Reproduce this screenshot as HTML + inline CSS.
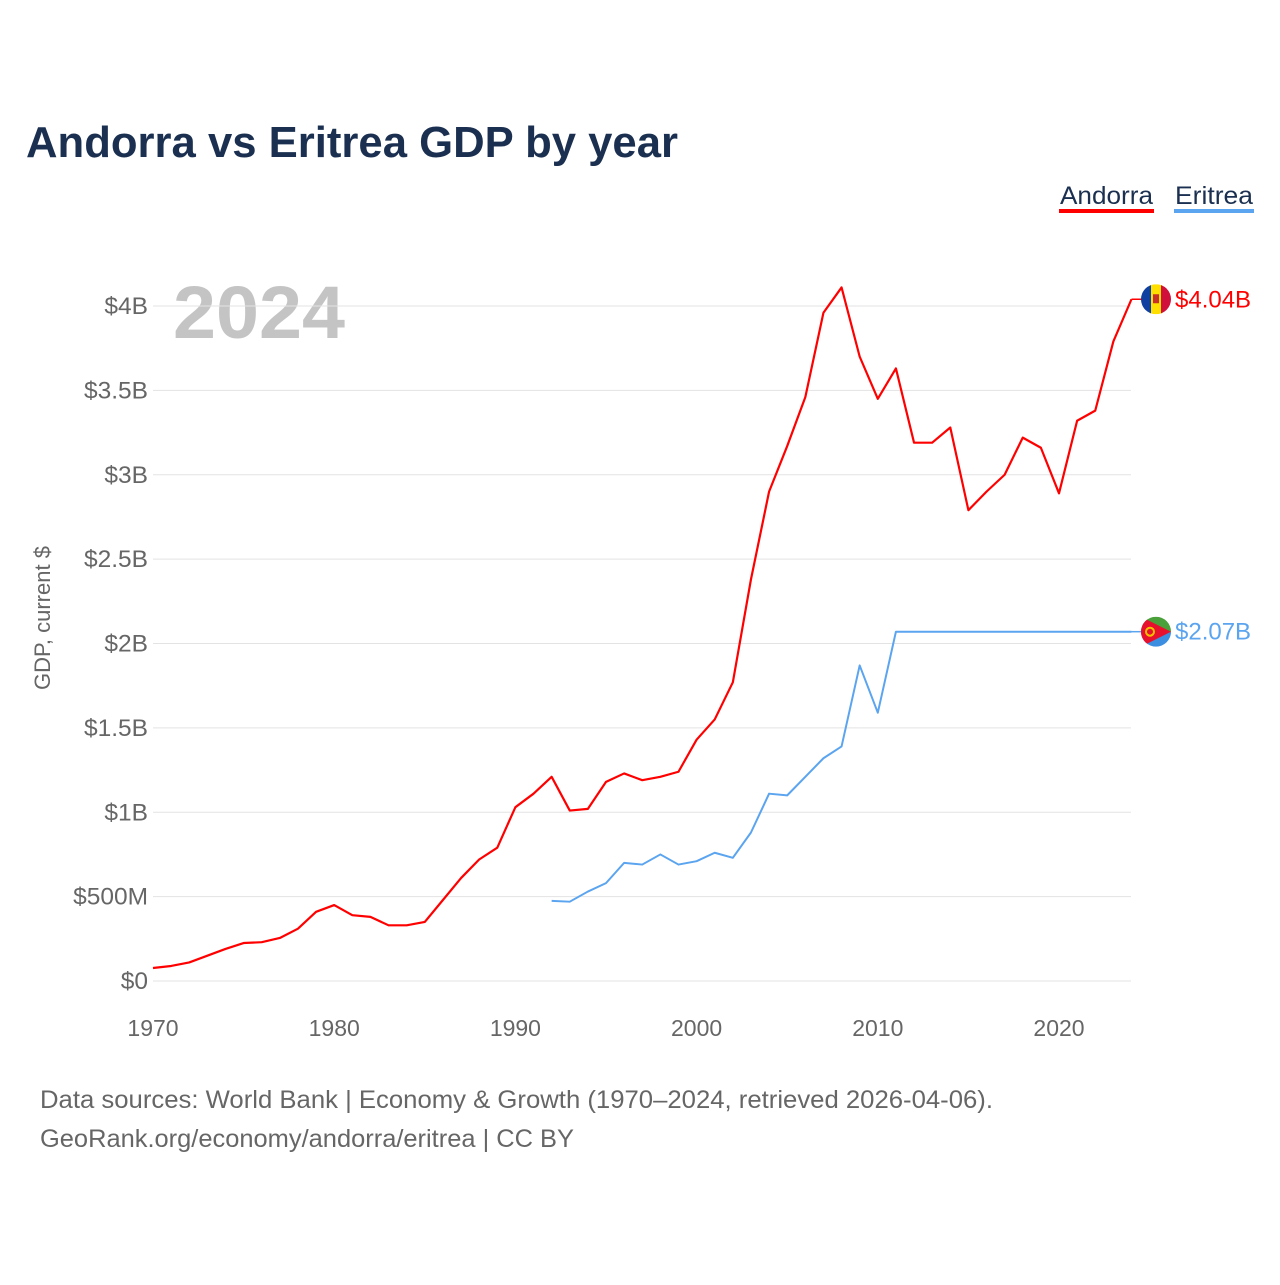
<!DOCTYPE html>
<html><head><meta charset="utf-8">
<style>
body{margin:0;background:#fff;font-family:"Liberation Sans",sans-serif;}
#wrap{position:relative;width:1280px;height:1280px;}
</style></head>
<body>
<div id="wrap">
<svg id="chart" width="1280" height="1280" xmlns="http://www.w3.org/2000/svg">
<text x="26" y="157" font-size="44" font-weight="bold" fill="#1b3050" textLength="652" lengthAdjust="spacingAndGlyphs">Andorra vs Eritrea GDP by year</text>
<g><text x="1060" y="204" font-size="25" fill="#1b3050" textLength="93" lengthAdjust="spacingAndGlyphs">Andorra</text><rect x="1059" y="209" width="95" height="4" fill="#ff0000"/></g>
<g><text x="1175" y="204" font-size="25" fill="#1b3050" textLength="78" lengthAdjust="spacingAndGlyphs">Eritrea</text><rect x="1174" y="209" width="80" height="4" fill="#5ba4ef"/></g>
<text x="173" y="338" font-size="74" font-weight="bold" fill="#c4c4c4" textLength="172" lengthAdjust="spacingAndGlyphs">2024</text>
<text transform="translate(50,618) rotate(-90)" text-anchor="middle" font-size="22" fill="#666">GDP, current $</text>
<g id="grid"></g><g id="xt"></g><g id="series"></g>
<text x="40" y="1108" font-size="25" fill="#666" textLength="953" lengthAdjust="spacingAndGlyphs">Data sources: World Bank | Economy &amp; Growth (1970–2024, retrieved 2026-04-06).</text>
<text x="40" y="1147" font-size="25" fill="#666" textLength="534" lengthAdjust="spacingAndGlyphs">GeoRank.org/economy/andorra/eritrea | CC BY</text>
</svg>
</div>
<script>
const yTicks=[0,0.5,1,1.5,2,2.5,3,3.5,4];
const yTickLabels=["$0","$500M","$1B","$1.5B","$2B","$2.5B","$3B","$3.5B","$4B"];
const xTicks=[1970,1980,1990,2000,2010,2020];
const andorraYears=[];for(let y=1970;y<=2024;y++)andorraYears.push(y);
const andorraValues=[0.077,0.089,0.11,0.15,0.19,0.225,0.23,0.255,0.31,0.41,0.45,0.39,0.38,0.33,0.33,0.35,0.48,0.61,0.72,0.79,1.03,1.11,1.21,1.01,1.02,1.18,1.23,1.19,1.21,1.24,1.43,1.55,1.77,2.38,2.90,3.17,3.46,3.96,4.11,3.70,3.45,3.63,3.19,3.19,3.28,2.79,2.90,3.00,3.22,3.16,2.89,3.32,3.38,3.79,4.04];
const eritreaYears=[];for(let y=1992;y<=2024;y++)eritreaYears.push(y);
const eritreaValues=[0.475,0.47,0.53,0.58,0.70,0.69,0.75,0.69,0.71,0.76,0.73,0.88,1.11,1.10,1.21,1.32,1.39,1.87,1.59,2.07,2.07,2.07,2.07,2.07,2.07,2.07,2.07,2.07,2.07,2.07,2.07,2.07,2.07];
const NS="http://www.w3.org/2000/svg";
const X=y=>153+(y-1970)*18.12;
const Y=v=>981-v*168.75;
function mk(t,a,p){const e=document.createElementNS(NS,t);for(const k in a)e.setAttribute(k,a[k]);p.appendChild(e);return e;}
const grid=document.getElementById('grid');
yTicks.forEach((v,i)=>{
 const l=mk('line',{x1:153,x2:1131,y1:Y(v),y2:Y(v),stroke:'#e3e3e3','stroke-width':1},grid);
 
 
 const t=mk('text',{x:148,y:Y(v)+8,'text-anchor':'end','font-size':24.5,fill:'#666'},grid);
 t.textContent=yTickLabels[i];
 
 
});
const xt=document.getElementById('xt');
xTicks.forEach(y=>{
 const t=mk('text',{x:X(y),y:1036,'text-anchor':'middle','font-size':23,fill:'#666'},xt);
 t.textContent=y;
 
 
});
const s=document.getElementById('series');
function line(ys,vs,col,w,name){
 const p=mk('polyline',{points:ys.map((y,i)=>X(y)+','+Y(vs[i])).join(' '),fill:'none',stroke:col,'stroke-width':w,'stroke-linejoin':'round'},s);
 
 
}
line(eritreaYears,eritreaValues,'#5ba4ef',2,'eritrea-line');
line(andorraYears,andorraValues,'#ff0000',2.2,'andorra-line');
const ea=andorraValues[andorraValues.length-1],ee=eritreaValues[eritreaValues.length-1];
const ex=mk('line',{x1:X(2024),x2:1142,y1:Y(ee),y2:Y(ee),stroke:'#5ba4ef','stroke-width':1.5},s);


const ax=mk('line',{x1:X(2024),x2:1142,y1:Y(ea),y2:Y(ea),stroke:'#ff0000','stroke-width':1.5},s);


const fa=mk('g',{},s);


const ay=Y(ea);
mk('clipPath',{id:'ca'},fa);mk('circle',{cx:1156,cy:ay,r:15},document.getElementById('ca'));
const ga=mk('g',{'clip-path':'url(#ca)'},fa);
mk('rect',{x:1141,y:ay-15,width:10,height:30,fill:'#1040a0'},ga);
mk('rect',{x:1151,y:ay-15,width:10,height:30,fill:'#fedf00'},ga);
mk('rect',{x:1161,y:ay-15,width:10,height:30,fill:'#d0103a'},ga);
mk('rect',{x:1153,y:ay-5,width:6,height:9,fill:'#c7302a'},ga);
const fe=mk('g',{},s);


const ey=Y(ee);
mk('clipPath',{id:'ce'},fe);mk('circle',{cx:1156,cy:ey,r:15},document.getElementById('ce'));
const ge=mk('g',{'clip-path':'url(#ce)'},fe);
mk('rect',{x:1141,y:ey-15,width:30,height:15,fill:'#4aa03a'},ge);
mk('rect',{x:1141,y:ey,width:30,height:15,fill:'#3b8ee0'},ge);
mk('polygon',{points:`1141,${ey-15} 1171,${ey} 1141,${ey+15}`,fill:'#e8112d'},ge);
mk('circle',{cx:1150,cy:ey,r:4,fill:'none',stroke:'#f2c200','stroke-width':2},ge);
const la=mk('text',{x:1175,y:ay+8,'font-size':24,fill:'#ff0000'},s);
la.textContent='$'+ea.toFixed(2)+'B';


const le=mk('text',{x:1175,y:ey+8,'font-size':24,fill:'#5ba4ef'},s);
le.textContent='$'+ee.toFixed(2)+'B';


</script>
</body></html>
